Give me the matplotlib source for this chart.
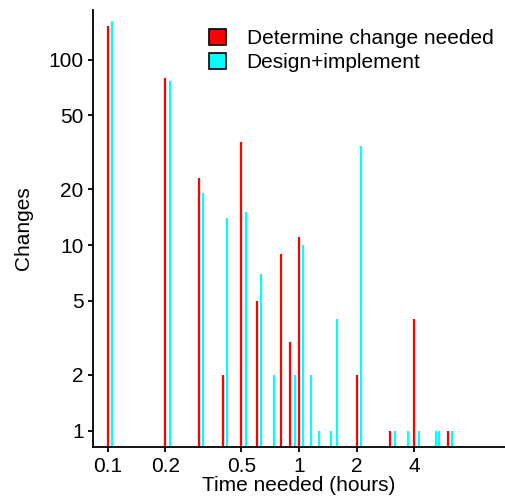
import matplotlib
matplotlib.use("Agg")
import matplotlib.pyplot as plt
from matplotlib.patches import Patch
from matplotlib.ticker import FixedLocator, NullLocator, FixedFormatter

plt.rcParams['font.family'] = ['Liberation Sans', 'DejaVu Sans']

# Data: time needed (hours) and number of changes
determine_time = [0.1, 0.2, 0.3, 0.4, 0.5, 0.6, 0.8, 0.9, 1.0, 2.0, 3.0, 4.0, 6.0]
determine_count = [152, 80, 23, 2, 36, 5, 9, 3, 11, 2, 1, 4, 1]

design_time = [0.1, 0.2, 0.3, 0.4, 0.5, 0.6, 0.7, 0.9, 1.0, 1.1, 1.2, 1.4, 1.5,
               2.0, 3.0, 3.5, 4.0, 4.95, 5.12, 6.0]
design_count = [161, 77, 19, 14, 15, 7, 2, 2, 10, 2, 1, 1, 4,
                34, 1, 1, 1, 1, 1, 1]

x_ticks = [0.1, 0.2, 0.5, 1, 2, 4]
x_tick_labels = ["0.1", "0.2", "0.5", "1", "2", "4"]
y_ticks = [1, 2, 5, 10, 20, 50, 100]
y_tick_labels = ["1", "2", "5", "10", "20", "50", "100"]

series_names = ["Determine change needed", "Design+implement"]
colors = ["#FF0000", "#00FFFF"]
dodge = 1.053  # multiplicative dodge of the second series on log axis

W, H = 505, 497
ax_w, ax_h = W - 92.7, 446.7 - 10
fig = plt.figure(figsize=(W / 100, H / 100), dpi=100)
ax = fig.add_axes([92.7 / W, (H - 446.7) / H, ax_w / W, ax_h / H])

ax.set_xscale('log')
ax.set_yscale('log')
ax.set_xlim(0.0835, 11.9)
ax.set_ylim(0.818, 185)

ax.vlines(determine_time, 0.5, determine_count, colors=colors[0], linewidth=1.6)
ax.vlines([t * dodge for t in design_time], 0.5, design_count, colors=colors[1], linewidth=1.6)

for s in ['top', 'right']:
    ax.spines[s].set_visible(False)
for s in ['left', 'bottom']:
    ax.spines[s].set_linewidth(1.3)
    ax.spines[s].set_color('black')

FS = 15
ax.xaxis.set_major_locator(FixedLocator(x_ticks))
ax.xaxis.set_major_formatter(FixedFormatter(x_tick_labels))
ax.xaxis.set_minor_locator(NullLocator())
ax.yaxis.set_major_locator(FixedLocator(y_ticks))
ax.yaxis.set_major_formatter(FixedFormatter(y_tick_labels))
ax.yaxis.set_minor_locator(NullLocator())
ax.tick_params(axis='both', which='major', length=3.5, width=1.3, color='black',
               labelsize=FS, labelcolor='black', pad=3)
ax.tick_params(axis='x', pad=4)

ax.set_xlabel("Time needed (hours)", fontsize=FS, labelpad=0)
ax.set_ylabel("Changes", fontsize=FS, labelpad=11)

handles = [Patch(facecolor=c, edgecolor='black', linewidth=1.2) for c in colors]
ax.legend(handles, series_names, loc='upper right',
          bbox_to_anchor=(1 - 3.25 / ax_w, 1 - 10.25 / ax_h),
          frameon=False, fontsize=FS, handlelength=0.8, handleheight=0.8,
          handletextpad=1.0, labelspacing=0.25, borderaxespad=0)

fig.savefig("out.png", dpi=100)
